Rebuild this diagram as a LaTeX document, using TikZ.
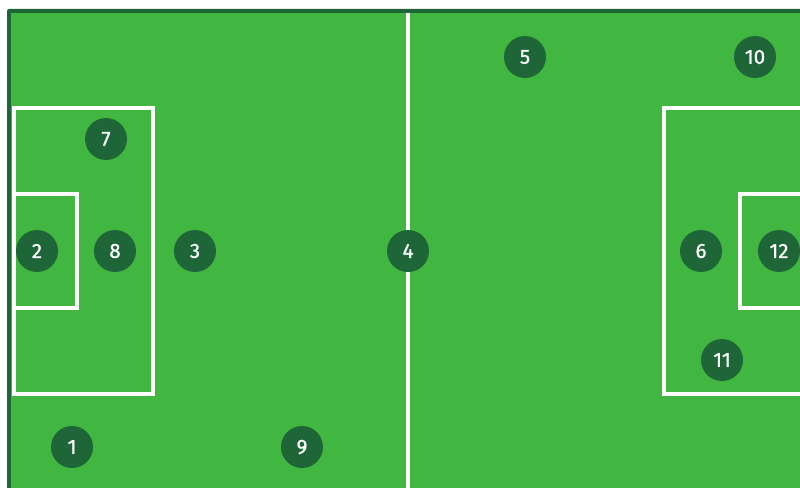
\documentclass[tikz,border=0pt]{standalone}
\usepackage{fontspec}
\setmainfont{Fira Sans}
\newfontfamily\numfont[FakeBold=0.8]{Fira Sans}
\definecolor{field}{HTML}{41B640}
\definecolor{dark}{HTML}{1E6637}
\begin{document}
\begin{tikzpicture}[x=1pt,y=-1pt,
  line/.style={draw=white,line width=3.5pt},
  player/.style={circle,fill=dark,minimum size=42pt,inner sep=0pt,text=white,font=\numfont\fontsize{20.5}{20.5}\selectfont}]
\useasboundingbox (0,0) rectangle (800,487);
\fill[white] (0,0) rectangle (800,487);
\fill[dark,rounded corners=2pt] (7,9) rectangle (820,500);
\fill[field] (11,13) rectangle (820,500);
\draw[line] (408,13) -- (408,490);
\draw[line] (14,108) -- (153,108) -- (153,394) -- (14,394) -- cycle;
\draw[line] (14,194) -- (77,194) -- (77,308) -- (14,308);
\draw[line] (810,108) -- (664,108) -- (664,394) -- (810,394);
\draw[line] (810,194) -- (740,194) -- (740,308) -- (810,308);
\node[player] (p1) at (72,447) {1};
\node[player] (p2) at (37,251) {2};
\node[player] (p3) at (195,251) {3};
\node[player] (p4) at (408,251) {4};
\node[player] (p5) at (525,57) {5};
\node[player] (p6) at (701,251) {6};
\node[player] (p7) at (106,139) {7};
\node[player] (p8) at (115,251) {8};
\node[player] (p9) at (302,447) {9};
\node[player] (p10) at (755,57) {10};
\node[player] (p11) at (722,360) {11};
\node[player] (p12) at (779,251) {12};
\end{tikzpicture}
\end{document}
